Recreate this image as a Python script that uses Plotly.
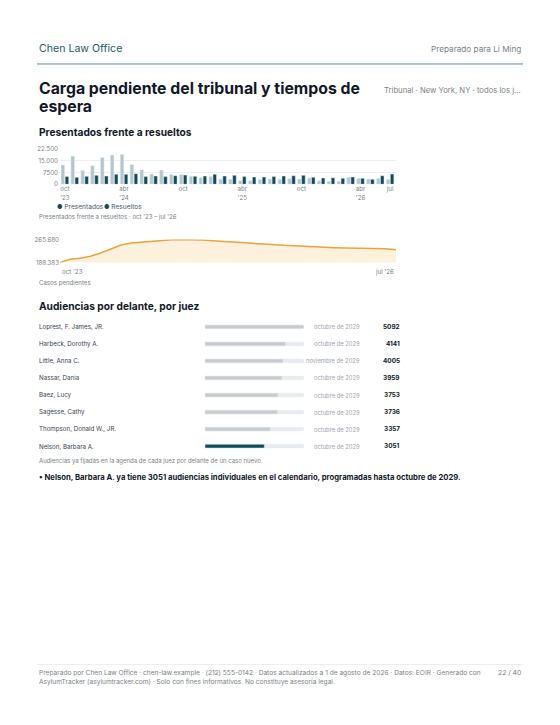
import plotly.graph_objects as go

# The page body keeps its default 8px margin, so the figure is sized to fit inside it.
OFF = 8
W, H = 560 - 2 * OFF, 725 - 2 * OFF
FONT = "Inter"
TEAL = "#0f4c5a"
LIGHT = "#b3c6cc"
GRAY = "#7a7f85"
DARK = "#111827"

# ---------------- data ----------------
months = list(range(34))  # oct '23 .. jul '26
presentados = [12300, 18000, 8900, 11900, 17200, 18700, 19100, 12700, 9300, 6600,
               9100, 6400, 6200, 5100, 4200, 4900, 3200, 3200, 2300, 2300,
               3000, 3400, 3200, 3600, 3400, 4000, 2300, 1900, 1900, 4500,
               3800, 3400, 3800, 3000]
resueltos = [4900, 4500, 5100, 5700, 5300, 6400, 6400, 6800, 4900, 5300,
             4900, 5500, 5900, 5100, 5300, 6400, 5300, 5700, 4900, 4700,
             4700, 4900, 5300, 5500, 5700, 4500, 4000, 4200, 3800, 4700,
             3800, 3200, 5500, 6600]
bar_tick_pos = [0, 6, 12, 18, 24, 30, 33]
bar_tick_text = ["oct<br>'23", "abr<br>'24", "oct", "abr<br>'25", "oct", "abr<br>'26", "jul"]
bar_y_ticks = [0, 7500, 15000, 22500]
bar_y_text = ["0", "7500", "15.000", "22.500"]

pendientes = [188383, 199400, 202700, 209400, 220400, 233600, 246900, 253500, 256800, 257900,
              261200, 264300, 265680, 265200, 263500, 261200, 259000, 255700, 252400, 250200,
              249100, 248000, 245800, 244700, 242500, 241400, 240300, 238000, 236900, 236900,
              236900, 236900, 234700, 231400]
line_y_ticks = [188383, 265680]
line_y_text = ["188.383", "265.680"]
line_x_labels = ["oct '23", "jul '26"]

jueces = ["Loprest, F. James, JR.", "Harbeck, Dorothy A.", "Little, Anna C.", "Nassar, Dania",
          "Baez, Lucy", "Sagesse, Cathy", "Thompson, Donald W., JR.", "Nelson, Barbara A."]
audiencias = [5092, 4141, 4005, 3959, 3753, 3736, 3357, 3051]
fechas = ["octubre de 2029", "octubre de 2029", "noviembre de 2029", "octubre de 2029",
          "octubre de 2029", "octubre de 2029", "octubre de 2029", "octubre de 2029"]
destacado = "Nelson, Barbara A."

# ---------------- helpers (page pixels -> paper) ----------------
def py(y):
    return 1 - (y - OFF) / H

def px(x):
    return (x - OFF) / W

fig = go.Figure()

fig.add_trace(go.Bar(x=months, y=presentados, name="Presentados", marker_color=LIGHT,
                     xaxis="x", yaxis="y", showlegend=False))
fig.add_trace(go.Bar(x=months, y=resueltos, name="Resueltos", marker_color=TEAL,
                     xaxis="x", yaxis="y", showlegend=False))

fig.add_trace(go.Scatter(x=months, y=pendientes, mode="lines", line=dict(color="#eba33a", width=1.5),
                         fill="tozeroy", fillcolor="rgba(250,215,160,0.35)",
                         xaxis="x2", yaxis="y2", showlegend=False, hoverinfo="skip", cliponaxis=False))

maxv = max(audiencias)
fig.add_trace(go.Bar(y=jueces, x=[maxv] * len(jueces), orientation="h", width=0.22, offset=-0.11,
                     marker=dict(color="#e9ebee", cornerradius=3), xaxis="x3", yaxis="y3",
                     showlegend=False, hoverinfo="skip"))
fig.add_trace(go.Bar(y=jueces, x=audiencias, orientation="h", width=0.22, offset=-0.11,
                     marker=dict(color=[TEAL if j == destacado else "#c9cacc" for j in jueces],
                                 cornerradius=3),
                     xaxis="x3", yaxis="y3", showlegend=False))

tickfont = dict(family=FONT, size=6.2, color=GRAY)

fig.update_layout(
    width=W, height=H, margin=dict(l=0, r=0, t=0, b=0),
    paper_bgcolor="white", plot_bgcolor="white",
    font=dict(family=FONT, color=DARK),
    barmode="group", bargap=0.18, bargroupgap=0.12,
    xaxis=dict(domain=[px(59), px(396)], range=[-0.6, 33.6], tickmode="array",
               tickvals=bar_tick_pos, ticktext=bar_tick_text, tickfont=tickfont,
               showgrid=False, zeroline=False, showline=False, ticks="", ticklen=2),
    yaxis=dict(domain=[py(182), py(146.5)], range=[0, 22500], tickmode="array",
               tickvals=bar_y_ticks, ticktext=bar_y_text, tickfont=tickfont,
               showgrid=True, gridcolor="#eceef0", gridwidth=1, zeroline=False, ticks=""),
    xaxis2=dict(domain=[px(60), px(396)], range=[0, 33], showticklabels=False,
                showgrid=False, zeroline=False, anchor="y2"),
    yaxis2=dict(domain=[py(261), py(237.7)], range=[188383, 265680], tickmode="array",
                tickvals=line_y_ticks, ticktext=line_y_text, tickfont=tickfont,
                showgrid=True, gridcolor="#eceef0", zeroline=False, anchor="x2"),
    xaxis3=dict(domain=[px(205), px(304)], range=[0, maxv], visible=False, anchor="y3"),
    yaxis3=dict(domain=[py(455.1), py(317.4)], range=[7.5, -0.5], visible=False,
                anchor="x3", categoryorder="array", categoryarray=jueces),
)

ann = []
def text(x, y, s, size, color=DARK, anchor="left", bold=False):
    if bold:
        s = "<b>" + s + "</b>"
    ann.append(dict(x=px(x), y=py(y), xref="paper", yref="paper", text=s, showarrow=False,
                    xanchor=anchor, yanchor="middle", font=dict(family=FONT, size=size, color=color)))

text(37, 45, "Chen Law Office", 10.6, color="#1d5c6a")
text(523, 45, "Preparado para Li Ming", 8.2, color=GRAY, anchor="right")
text(37, 85, "Carga pendiente del tribunal y tiempos de", 15.8, bold=True)
text(37, 103.5, "espera", 15.8, bold=True)
text(523, 87, "Tribunal · New York, NY · todos los j...", 7.7, color=GRAY, anchor="right")
text(37, 129, "Presentados frente a resueltos", 10.2, bold=True)
text(55, 204.5, "<span style='color:%s;font-size:6px'>●</span> Presentados" % TEAL, 6.6, color="#4b5563")
text(102, 204.5, "<span style='color:%s;font-size:6px'>●</span> Resueltos" % TEAL, 6.6, color="#4b5563")
text(37, 215, "Presentados frente a resueltos · oct '23 – jul '26", 6.1, color=GRAY)
ann.append(dict(x=0, y=py(270.5), xref="x2", yref="paper", text=line_x_labels[0], showarrow=False,
                xanchor="left", yanchor="middle", font=tickfont))
ann.append(dict(x=33, y=py(270.5), xref="x2", yref="paper", text=line_x_labels[1], showarrow=False,
                xanchor="right", yanchor="middle", font=tickfont))
text(37, 281.5, "Casos pendientes", 6.1, color=GRAY)
text(37, 305, "Audiencias por delante, por juez", 10.2, bold=True)

for i, (j, v, f) in enumerate(zip(jueces, audiencias, fechas)):
    ann.append(dict(x=px(37), y=i, xref="paper", yref="y3", text=j, showarrow=False,
                    xanchor="left", yanchor="middle", font=dict(family=FONT, size=6.2, color="#374151")))
    ann.append(dict(x=px(362), y=i, xref="paper", yref="y3", text=f, showarrow=False,
                    xanchor="right", yanchor="middle", font=dict(family=FONT, size=5.8, color="#9ca3af")))
    ann.append(dict(x=px(401.5), y=i, xref="paper", yref="y3", text="<b>%d</b>" % v, showarrow=False,
                    xanchor="right", yanchor="middle", font=dict(family=FONT, size=6.4, color=DARK)))

text(37, 461.5, "Audiencias ya fijadas en la agenda de cada juez por delante de un caso nuevo.", 6.0, color=GRAY)
text(37, 478, "<b>• Nelson, Barbara A. ya tiene 3051 audiencias individuales en el calendario, programadas hasta octubre de 2029.</b>", 7.7, color=DARK)

text(37, 675.5, "Preparado por Chen Law Office · chen-law.example · (212) 555-0142 · Datos actualizados a 1 de agosto de 2026 · Datos: EOIR · Generado con", 6.6, color=GRAY)
text(37, 684.5, "AsylumTracker (asylumtracker.com) · Solo con fines informativos. No constituye asesoría legal.", 6.6, color=GRAY)
text(523, 675.5, "22 / 40", 6.8, color=GRAY, anchor="right")

fig.update_layout(annotations=ann, shapes=[
    dict(type="line", xref="paper", yref="paper", x0=px(37), x1=px(523), y0=py(60.5), y1=py(60.5),
         line=dict(color="#5f8d99", width=1)),
    dict(type="line", xref="paper", yref="paper", x0=px(37), x1=px(523), y0=py(667), y1=py(667),
         line=dict(color="#eceef0", width=1)),
])

fig.write_html("out.html")
